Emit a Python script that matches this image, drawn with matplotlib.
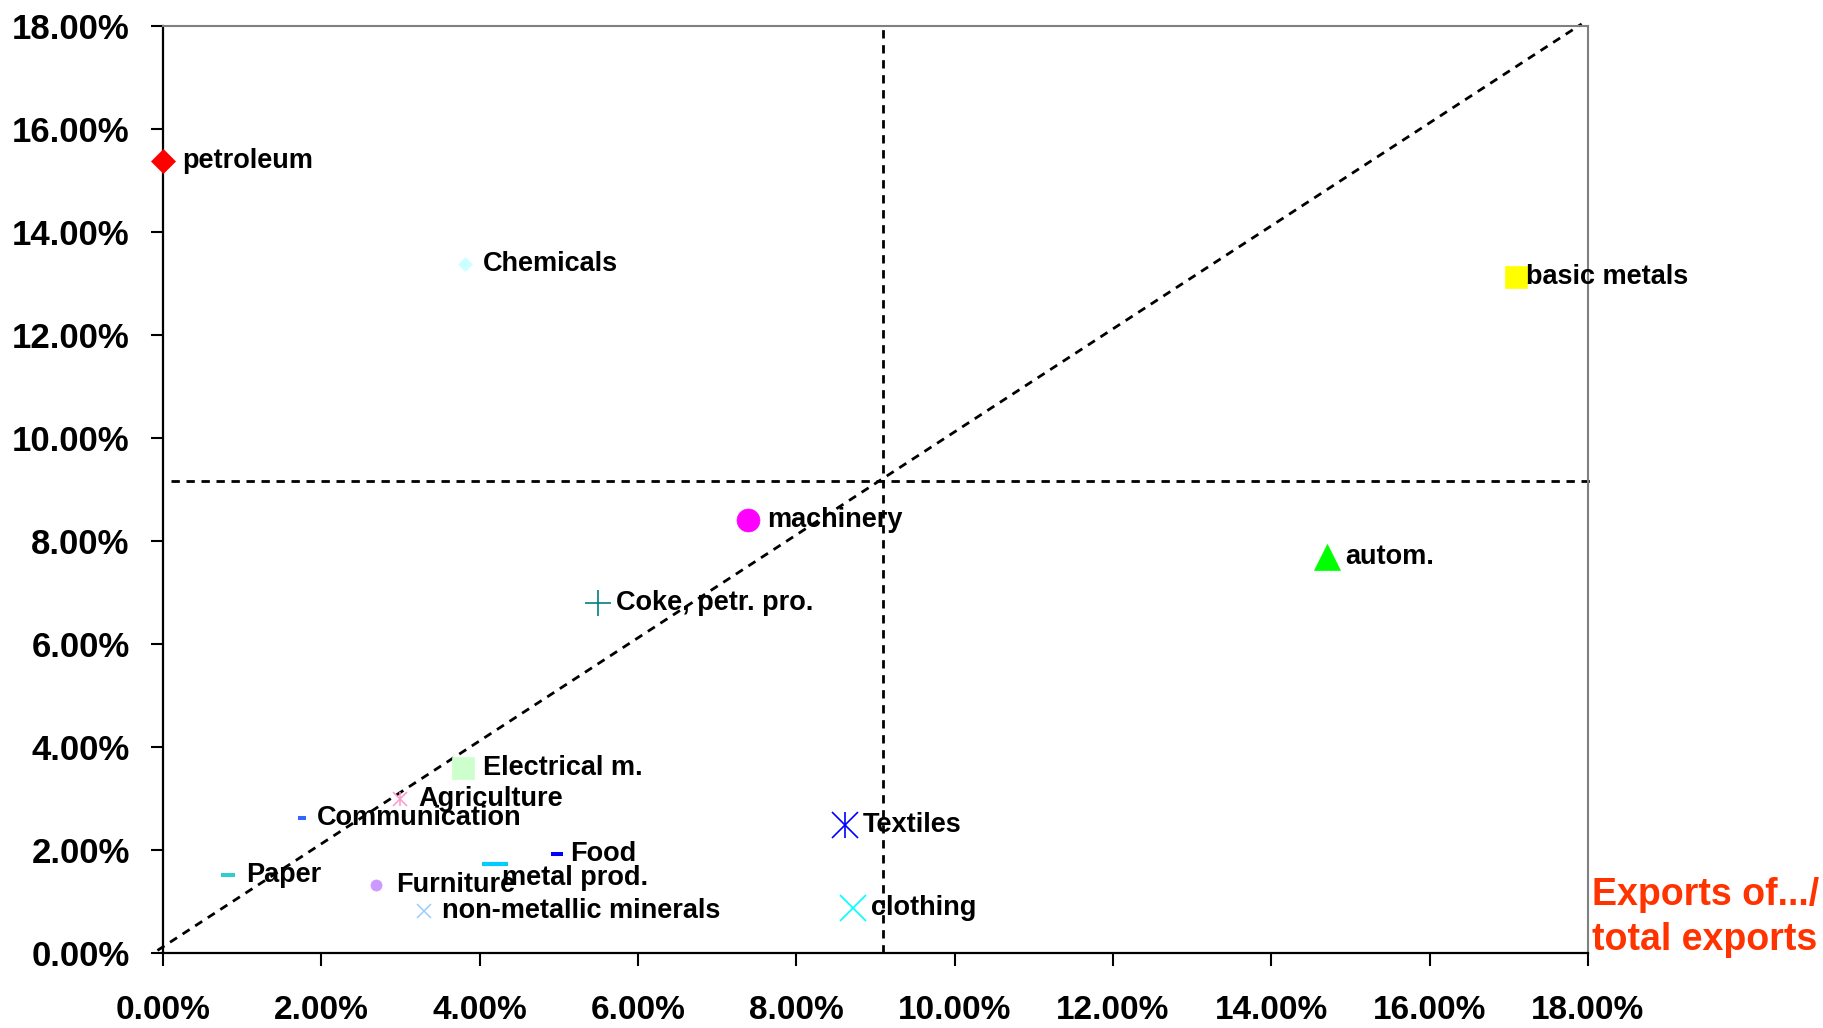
import numpy as np
import matplotlib.pyplot as plt
from matplotlib.ticker import FuncFormatter

plt.rcParams['font.family'] = ['Liberation Sans', 'DejaVu Sans']

# sectors: share in exports (x) vs share in ... (y), both in %
sectors = ['petroleum', 'Chemicals', 'basic metals', 'machinery', 'autom.',
           'Coke, petr. pro.', 'Electrical m.', 'Agriculture', 'Communication',
           'Paper', 'Furniture', 'metal prod.', 'Food', 'non-metallic minerals',
           'Textiles', 'clothing']
x_share = [0.00, 3.81, 17.09, 7.39, 14.70, 5.49, 3.79, 3.00, 1.76,
           0.82, 2.69, 4.20, 4.98, 3.30, 8.61, 8.72]
y_share = [15.38, 13.38, 13.13, 8.41, 7.69, 6.80, 3.59, 3.00, 2.62,
           1.51, 1.32, 1.72, 1.92, 0.82, 2.49, 0.87]

# reference lines
x_mean = 9.09
y_mean = 9.17
diag_x = [-0.07, 17.92]
diag_y = [0.05, 18.04]

ticks = np.arange(0, 18.01, 2)

# marker style per sector: (marker, size, colour, edge width)
styles = [
    ('D', 12.5, '#FF0000', 0.5),
    ('D', 7.0, '#CCFFFF', 0.5),
    ('s', 16.5, '#FFFF00', 0.5),
    ('o', 16.5, '#FF00FF', 0.5),
    ('^', 18.5, '#00FF00', 0.5),
    ('+', 18.5, '#008080', 1.2),
    ('s', 16.0, '#CCFFCC', 0.5),
    ('*x', 10.0, '#FF99CC', 1.1),
    ('_', 5.8, '#3366FF', 2.9),
    ('_', 10.0, '#33CCCC', 2.9),
    ('o', 8.0, '#CC99FF', 0.5),
    ('_', 18.5, '#00CCFF', 3.0),
    ('_', 9.3, '#0000FF', 2.9),
    ('x', 10.0, '#99CCFF', 1.1),
    ('*x', 18.5, '#0000FF', 1.2),
    ('x', 18.5, '#00FFFF', 1.2),
]
# label offsets in pixels (dx, dy)
label_off = [(19, 0), (18, 0), (10, 0), (19, 0), (19, 0), (18, 0), (20, 0),
             (18, 0), (15, 0), (18, 0), (20, 0), (7, -14), (13, 0), (18, 0),
             (18, 0), (18, 0)]

fig = plt.figure(figsize=(18.24, 10.28), dpi=100)
ax = fig.add_axes([163 / 1824, 1 - 953 / 1028, 1425 / 1824, 927 / 1028])

# dashed reference lines
dash = dict(color='black', lw=2.0, dashes=(3, 2.4))
ax.plot(diag_x, diag_y, clip_on=False, **dash)
ax.axvline(x_mean, **dash)
ax.plot([0.1, 18.08], [y_mean, y_mean], clip_on=False, **dash)

for i, name in enumerate(sectors):
    mk, ms, col, mew = styles[i]
    if mk == '*x':
        ax.plot(x_share[i], y_share[i], 'x', ms=ms, color=col, mew=mew, clip_on=False, zorder=4)
        ax.plot(x_share[i], y_share[i], '|', ms=ms, color=col, mew=mew, clip_on=False, zorder=4)
    else:
        ax.plot(x_share[i], y_share[i], mk, ms=ms, color=col, mec=col, mew=mew,
                clip_on=False, zorder=4)
    dx, dy = label_off[i]
    ax.annotate(name, (x_share[i], y_share[i]), xytext=(dx, dy),
                textcoords='offset pixels', ha='left', va='center',
                fontsize=19.5, fontweight='bold', color='black', zorder=5)

ax.set_xlim(0, 18)
ax.set_ylim(0, 18)
ax.set_xticks(ticks)
ax.set_yticks(ticks)
fmt = FuncFormatter(lambda v, p: '{:.2f}%'.format(v))
ax.xaxis.set_major_formatter(fmt)
ax.yaxis.set_major_formatter(fmt)
ax.tick_params(axis='both', direction='out', length=9, width=1.5)
ax.tick_params(axis='x', pad=21, labelsize=24)
ax.tick_params(axis='y', pad=15, labelsize=25)
for lab in ax.get_xticklabels() + ax.get_yticklabels():
    lab.set_fontweight('bold')

for s in ['left', 'bottom']:
    ax.spines[s].set_color('black')
    ax.spines[s].set_linewidth(1.6)
for s in ['top', 'right']:
    ax.spines[s].set_color('#808080')
    ax.spines[s].set_linewidth(1.5)

fig.text(1592 / 1824, 1 - 905 / 1028, 'Exports of.../', color='#FF3300',
         fontsize=27, fontweight='bold', ha='left', va='baseline')
fig.text(1592 / 1824, 1 - 950 / 1028, 'total exports', color='#FF3300',
         fontsize=27, fontweight='bold', ha='left', va='baseline')

plt.savefig('out.png', dpi=100)
